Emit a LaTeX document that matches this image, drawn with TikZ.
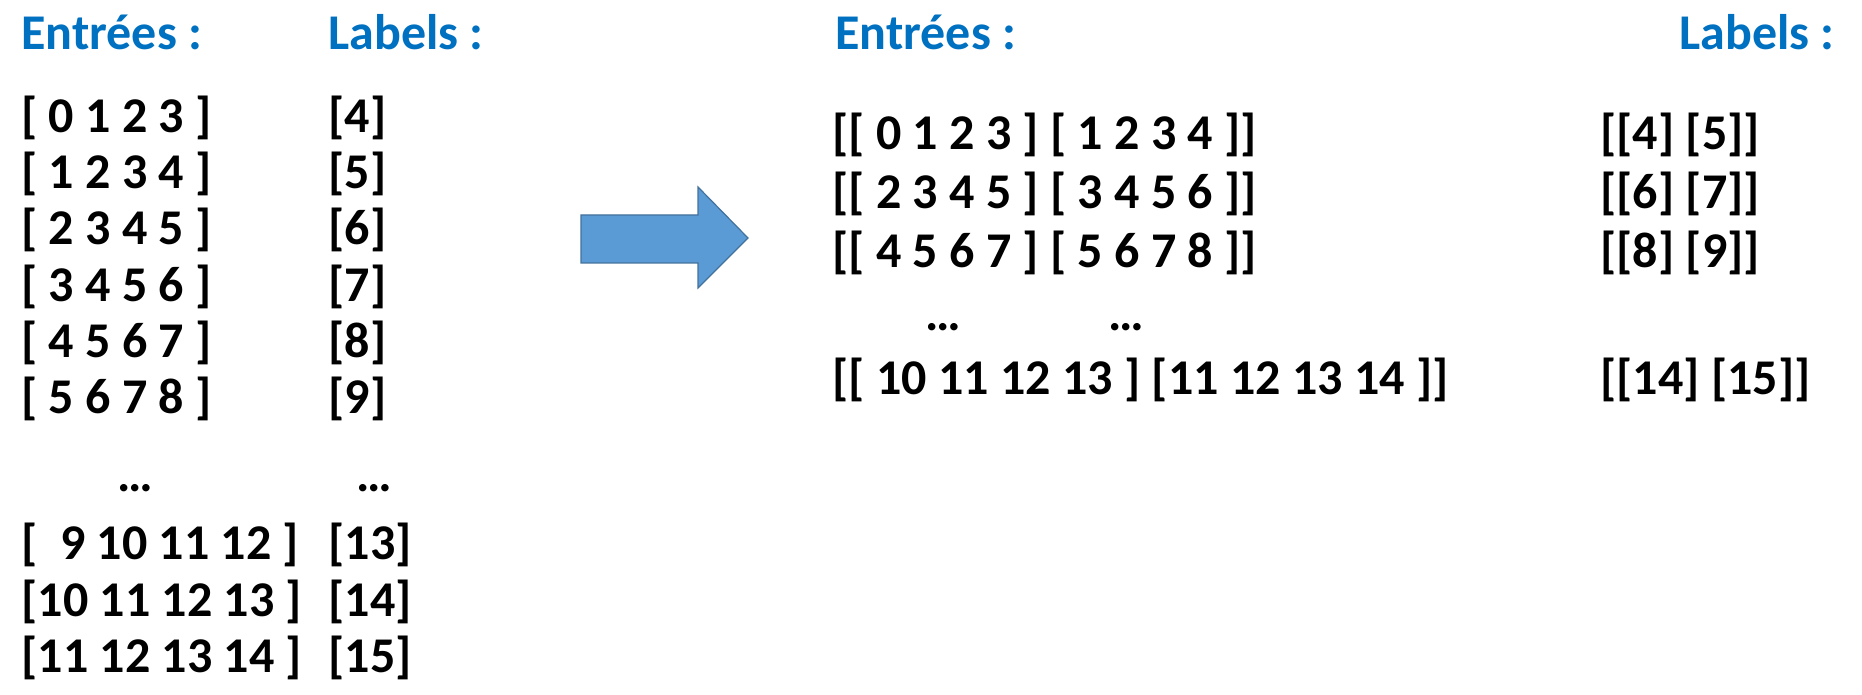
\documentclass[tikz,border=0pt]{standalone}
\usepackage{fontspec}
\setmainfont{Carlito}
\definecolor{hdrblue}{RGB}{0,112,192}
\definecolor{arrowfill}{RGB}{91,155,213}
\definecolor{arrowline}{RGB}{65,113,156}
\tikzset{
  txt/.style={anchor=base west, inner sep=0pt, font=\fontsize{25}{30}\selectfont\bfseries},
  hdr/.style={txt, text=hdrblue},
  bigarrow/.style={fill=arrowfill, draw=arrowline, line width=0.6pt, line join=miter}
}
\begin{document}
\begin{tikzpicture}[x=0.5pt,y=-0.5pt]
\useasboundingbox (0,0) rectangle (1862,695);
% headers
\node[hdr] (h1) at (21,50) {Entrées :};
\node[hdr] (h2) at (328,50) {Labels :};
\node[hdr] (h3) at (835,50) {Entrées :};
\node[hdr] (h4) at (1679,50) {Labels :};
% left inputs
\node[txt] (a1) at (21,133) {[ 0 1 2 3 ]};
\node[txt] (a2) at (21,189) {[ 1 2 3 4 ]};
\node[txt] (a3) at (21,245) {[ 2 3 4 5 ]};
\node[txt] (a4) at (21,301) {[ 3 4 5 6 ]};
\node[txt] (a5) at (21,357) {[ 4 5 6 7 ]};
\node[txt] (a6) at (21,413) {[ 5 6 7 8 ]};
\node[txt] (ad) at (117,491) {…};
\node[txt] (a7) at (21,559) {[ \ 9 10 11 12 ]};
\node[txt] (a8) at (21,616) {[10 11 12 13 ]};
\node[txt] (a9) at (21,672) {[11 12 13 14 ]};
% left labels
\node[txt] (b1) at (328,133) {[4]};
\node[txt] (b2) at (328,189) {[5]};
\node[txt] (b3) at (328,245) {[6]};
\node[txt] (b4) at (328,301) {[7]};
\node[txt] (b5) at (328,357) {[8]};
\node[txt] (b6) at (328,413) {[9]};
\node[txt] (bd) at (356,491) {…};
\node[txt] (b7) at (328,559) {[13]};
\node[txt] (b8) at (328,616) {[14]};
\node[txt] (b9) at (328,672) {[15]};
% arrow
\draw[bigarrow] (581,215) -- (698,215) -- (698,187) -- (748,238) -- (698,288) -- (698,263) -- (581,263) -- cycle;
% right inputs
\node[txt] (c1) at (832,150) {[[ 0 1 2 3 ] [ 1 2 3 4 ]]};
\node[txt] (c2) at (832,209) {[[ 2 3 4 5 ] [ 3 4 5 6 ]]};
\node[txt] (c3) at (832,268) {[[ 4 5 6 7 ] [ 5 6 7 8 ]]};
\node[txt] (cd1) at (925,330) {…};
\node[txt] (cd2) at (1108,330) {…};
\node[txt] (c4) at (832,394) {[[ 10 11 12 13 ] [11 12 13 14 ]]};
% right labels
\node[txt] (d1) at (1600,150) {[[4] [5]]};
\node[txt] (d2) at (1600,209) {[[6] [7]]};
\node[txt] (d3) at (1600,268) {[[8] [9]]};
\node[txt] (d4) at (1600,394) {[[14] [15]]};
\end{tikzpicture}
\end{document}
